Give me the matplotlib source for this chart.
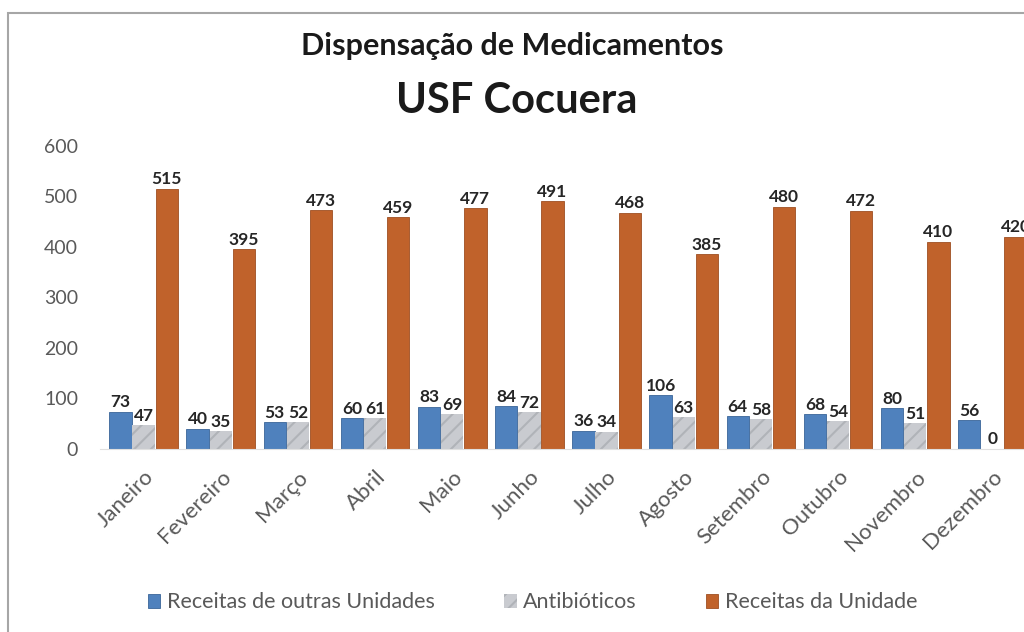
import matplotlib.pyplot as plt
import numpy as np

# Dados
meses = ['Janeiro', 'Fevereiro', 'Março', 'Abril', 'Maio', 'Junho', 'Julho',
         'Agosto', 'Setembro', 'Outubro', 'Novembro', 'Dezembro']
outras_unidades = [73, 40, 53, 60, 83, 84, 36, 106, 64, 68, 80, 56]
antibioticos = [47, 35, 52, 61, 69, 72, 34, 63, 58, 54, 51, 0]
receitas_unidade = [515, 395, 473, 459, 477, 491, 468, 385, 480, 472, 410, 420]

plt.rcParams['font.family'] = ['Lato', 'DejaVu Sans']
plt.rcParams['hatch.color'] = 'white'
plt.rcParams['hatch.linewidth'] = 1.5

fig = plt.figure(figsize=(10.24, 6.32), dpi=100)

# moldura cinza do grafico
fig.add_artist(plt.Rectangle((8 / 1024, -0.01), 1.1, 1 - 13 / 632 + 0.01,
                             transform=fig.transFigure, fill=False,
                             edgecolor='#a6a6a6', linewidth=1.5))

ax = fig.add_axes([0.098, 0.29, 0.902, 0.479])

x = np.arange(len(meses))
w = 0.29

b1 = ax.bar(x - 0.30, outras_unidades, w, color='#4f81bd', edgecolor='#3a6598',
            linewidth=0.6, label='Receitas de outras Unidades')
b2 = ax.bar(x, antibioticos, w, color='#c9cbd0', hatch='//', edgecolor='#b0b3b8',
            linewidth=0, label='Antibióticos')
b3 = ax.bar(x + 0.30, receitas_unidade, w, color='#c0622b', edgecolor='#9e4f22',
            linewidth=0.6, label='Receitas da Unidade')

for b in (b1, b2, b3):
    ax.bar_label(b, padding=1, fontsize=12.5, fontweight='bold', color='#262626')

ax.set_ylim(0, 600)
ax.set_xlim(-0.56, 11.41)
ax.set_yticks(range(0, 601, 100))
ax.tick_params(axis='y', length=0, labelsize=14, labelcolor='#595959', pad=16)
ax.set_xticks(x)
ax.set_xticklabels(meses, rotation=45, ha='right', rotation_mode='anchor')
ax.tick_params(axis='x', length=0, labelsize=16, labelcolor='#595959', pad=13)
for s in ('top', 'right', 'left'):
    ax.spines[s].set_visible(False)
ax.spines['bottom'].set_color('#e0e0e0')

fig.text(0.5, 0.928, 'Dispensação de Medicamentos', ha='center', va='center',
         fontsize=22, fontweight='bold', color='#1a1a1a')
fig.text(0.505, 0.84, 'USF Cocuera', ha='center', va='center',
         fontsize=30, fontweight='bold', color='#1a1a1a')

fig.legend(loc='center', bbox_to_anchor=(0.52, 0.047), ncol=3, frameon=False,
           fontsize=15.5, labelcolor='#595959', handlelength=0.6, handleheight=0.6,
           handletextpad=0.3, columnspacing=3.2)

fig.savefig('out.png', dpi=100)
